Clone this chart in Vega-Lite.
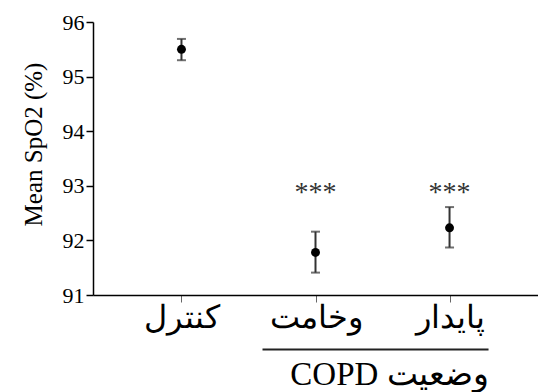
{
  "$schema": "https://vega.github.io/schema/vega-lite/v6.json",
  "width": 445,
  "height": 273,
  "autosize": {"type": "none"},
  "padding": {"left": 93, "top": 22, "right": 0, "bottom": 97},
  "background": "white",
  "config": {
    "view": {"stroke": null},
    "font": "Liberation Serif",
    "axis": {"grid": false, "domainColor": "#000", "tickColor": "#000", "labelColor": "#000", "titleColor": "#000", "labelFont": "Liberation Serif", "titleFont": "Liberation Serif", "titleFontWeight": "normal"},
    "axisY": {"titleFontSize": 25, "labelFontSize": 22, "tickSize": 7, "tickWidth": 1.5, "domainWidth": 1.5, "labelPadding": 2, "titlePadding": 16, "labelOverlap": false}
  },
  "datasets": {
    "groups": [
      {"group": "کنترل", "mean": 95.5, "lo": 95.3, "hi": 95.69, "sig": ""},
      {"group": "وخامت", "mean": 91.78, "lo": 91.41, "hi": 92.16, "sig": "***"},
      {"group": "پایدار", "mean": 92.23, "lo": 91.87, "hi": 92.61, "sig": "***"}
    ],
    "bracket": [
      {"from": "وخامت", "to": "پایدار", "level": 90.0}
    ]
  },
  "encoding": {
    "x": {
      "field": "group", "type": "nominal", "sort": null,
      "scale": {"type": "point", "padding": 0.66},
      "axis": {
        "title": "COPD وضعیت", "titleFontSize": 33, "titleX": 296, "titleY": 79, "titleBaseline": "middle", "titleAlign": "center", "titleAnchor": null,
        "labelAngle": 0, "labelFontSize": 32, "labelFont": "Liberation Serif", "labelPadding": 0, "tickSize": 7, "tickWidth": 1, "domainWidth": 1.5, "tickColor": "#666"
      }
    }
  },
  "layer": [
    {
      "data": {"name": "groups"},
      "mark": {"type": "rule", "strokeWidth": 2, "color": "#333"},
      "encoding": {
        "y": {"field": "lo", "type": "quantitative", "scale": {"domain": [91, 96], "nice": false, "zero": false},
          "axis": {"title": "Mean SpO2 (%)", "values": [91, 92, 93, 94, 95, 96], "labelOverlap": false, "titleY": 122}},
        "y2": {"field": "hi"}
      }
    },
    {
      "data": {"name": "groups"},
      "mark": {"type": "tick", "orient": "horizontal", "size": 9, "thickness": 2, "color": "#333"},
      "encoding": {"y": {"field": "lo", "type": "quantitative"}}
    },
    {
      "data": {"name": "groups"},
      "mark": {"type": "tick", "orient": "horizontal", "size": 9, "thickness": 2, "color": "#333"},
      "encoding": {"y": {"field": "hi", "type": "quantitative"}}
    },
    {
      "data": {"name": "groups"},
      "mark": {"type": "point", "filled": true, "size": 80, "color": "#000", "opacity": 1},
      "encoding": {"y": {"field": "mean", "type": "quantitative"}}
    },
    {
      "data": {"name": "groups"},
      "mark": {"type": "text", "fontSize": 28, "color": "#333", "baseline": "middle", "dy": 4},
      "encoding": {"y": {"datum": 92.95, "type": "quantitative"}, "text": {"field": "sig"}}
    },
    {
      "data": {"name": "bracket"},
      "mark": {"type": "rule", "strokeWidth": 2, "color": "#222", "xOffset": -53, "x2Offset": 39, "clip": false},
      "encoding": {
        "x": {"field": "from", "type": "nominal"},
        "x2": {"field": "to"},
        "y": {"field": "level", "type": "quantitative"}
      }
    }
  ]
}
